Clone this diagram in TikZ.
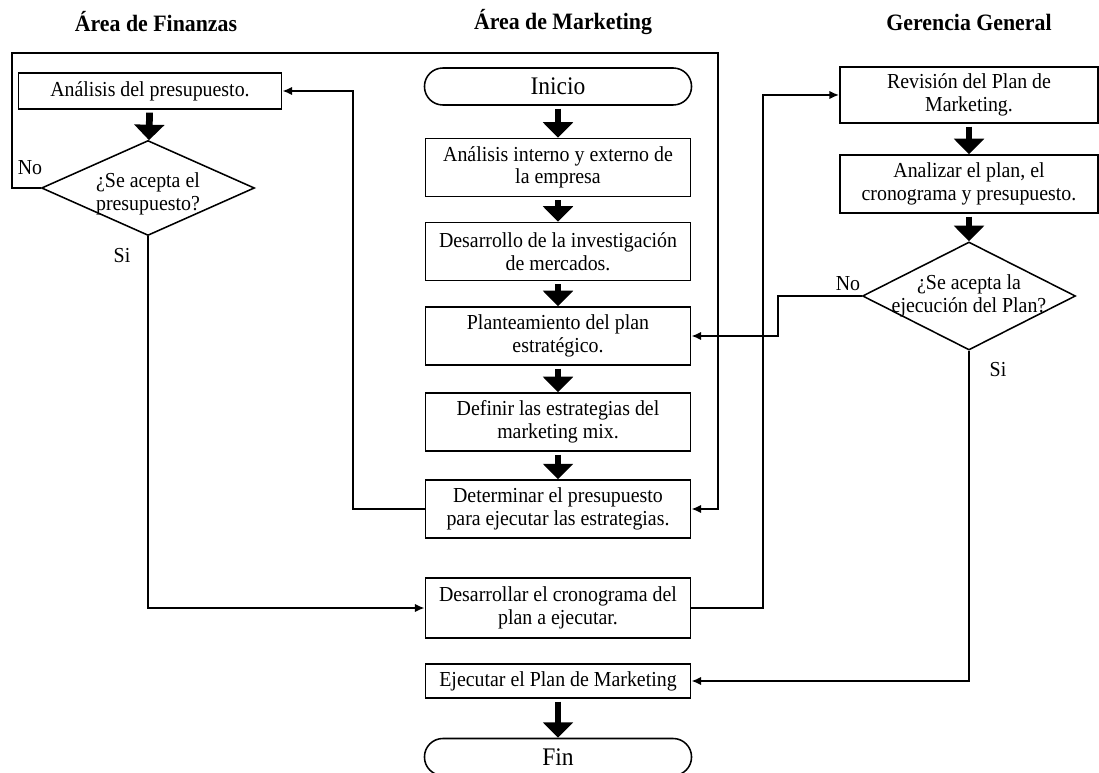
\documentclass[tikz,border=0pt]{standalone}
\usepackage{fontspec}
\setmainfont{Liberation Serif}[FakeStretch=0.93]
\usepackage{tikz}
\usetikzlibrary{arrows.meta, shapes.geometric}
\newcommand{\boxfont}{\fontsize{15.2}{16}\selectfont}
\tikzset{
  box/.style={draw, line width=1.1pt, align=center, inner sep=2pt, font=\boxfont, minimum width=6.625cm, minimum height=1.45cm},
  terminal/.style={draw, line width=1.1pt, rounded corners=0.46cm, font=\fontsize{18}{20}\selectfont, minimum width=6.675cm, minimum height=0.925cm},
  decision/.style={draw, diamond, line width=1.1pt, inner sep=0pt, minimum width=5.325cm},
  lane/.style={font=\bfseries\fontsize{16.7}{20}\selectfont},
  lbl/.style={font=\boxfont},
  flow/.style={line width=2.1pt, -{Latex[length=7pt,width=6pt]}},
  bigarrow/.style={line width=4.8pt, -{Triangle[length=11pt,width=21pt]}, shorten <=2pt}
}
\begin{document}
\begin{tikzpicture}[x=0.025cm, y=-0.025cm]
  \useasboundingbox (0,0) rectangle (1099,773);

  \node[lane] (tFin) at (156,22) {Área de Finanzas};
  \node[lane] (tMkt) at (563,22) {Área de Marketing};
  \node[lane] (tGer) at (969,22) {Gerencia General};

  \node[box, minimum width=6.575cm, minimum height=0.9cm] (presup) at (150,91) {Análisis del presupuesto.};
  \node[decision, minimum height=2.375cm, label={[font=\boxfont, align=center, yshift=-4pt]center:{¿Se acepta el\\presupuesto?}}] (dFin) at (148,188) {};

  \node[terminal] (inicio) at (558,86.5) {Inicio};
  \node[box] (a1) at (558,167.5) {Análisis interno y externo de\\la empresa};
  \node[box] (a2) at (558,251.5) {Desarrollo de la investigación\\de mercados.};
  \node[box] (a3) at (558,336) {Planteamiento del plan\\estratégico.};
  \node[box] (a4) at (558,422) {Definir las estrategias del\\marketing mix.};
  \node[box] (a5) at (558,509) {Determinar el presupuesto\\para ejecutar las estrategias.};
  \node[box, minimum height=1.5cm] (a6) at (558,608) {Desarrollar el cronograma del\\plan a ejecutar.};
  \node[box, minimum height=0.85cm] (a7) at (558,681) {Ejecutar el Plan de Marketing};
  \node[terminal] (fin) at (558,757) {Fin};

  \node[box, minimum width=6.45cm, minimum height=1.4cm] (rev) at (969,95) {Revisión del Plan de\\Marketing.};
  \node[box, minimum width=6.45cm] (anal) at (969,184) {Analizar el plan, el\\cronograma y presupuesto.};
  \node[decision, minimum height=2.7cm, label={[font=\boxfont, align=center]center:{¿Se acepta la\\ejecución del Plan?}}] (dGer) at (969,296) {};

  \node[lbl] (noFin) at (30,168) {No};
  \node[lbl] (siFin) at (122,256) {Si};
  \node[lbl] (noGer) at (848,284) {No};
  \node[lbl] (siGer) at (998,370) {Si};

  \foreach \a/\b in {inicio/a1, a1/a2, a2/a3, a3/a4, a4/a5, a7/fin, presup/dFin, rev/anal, anal/dGer}
    \draw[bigarrow] (\a) -- (\b);

  \coordinate (loopL) at (12,53);
  \coordinate (loopR) at (718,53);
  \coordinate (backL) at (353,91);
  \coordinate (upR) at (763,95);
  \coordinate (noR) at (778,296);

  \draw[flow] (dFin.west) -| (loopL) -- (loopR) |- (a5.east);
  \draw[flow] (a5.west) -| (backL) -- (presup.east);
  \draw[flow] (dFin.south) |- (a6.west);
  \draw[flow] (a6.east) -| (upR) -- (rev.west);
  \draw[flow] (dGer.west) -- (noR) |- (a3.east);
  \draw[flow] (dGer.south) |- (a7.east);
\end{tikzpicture}
\end{document}
